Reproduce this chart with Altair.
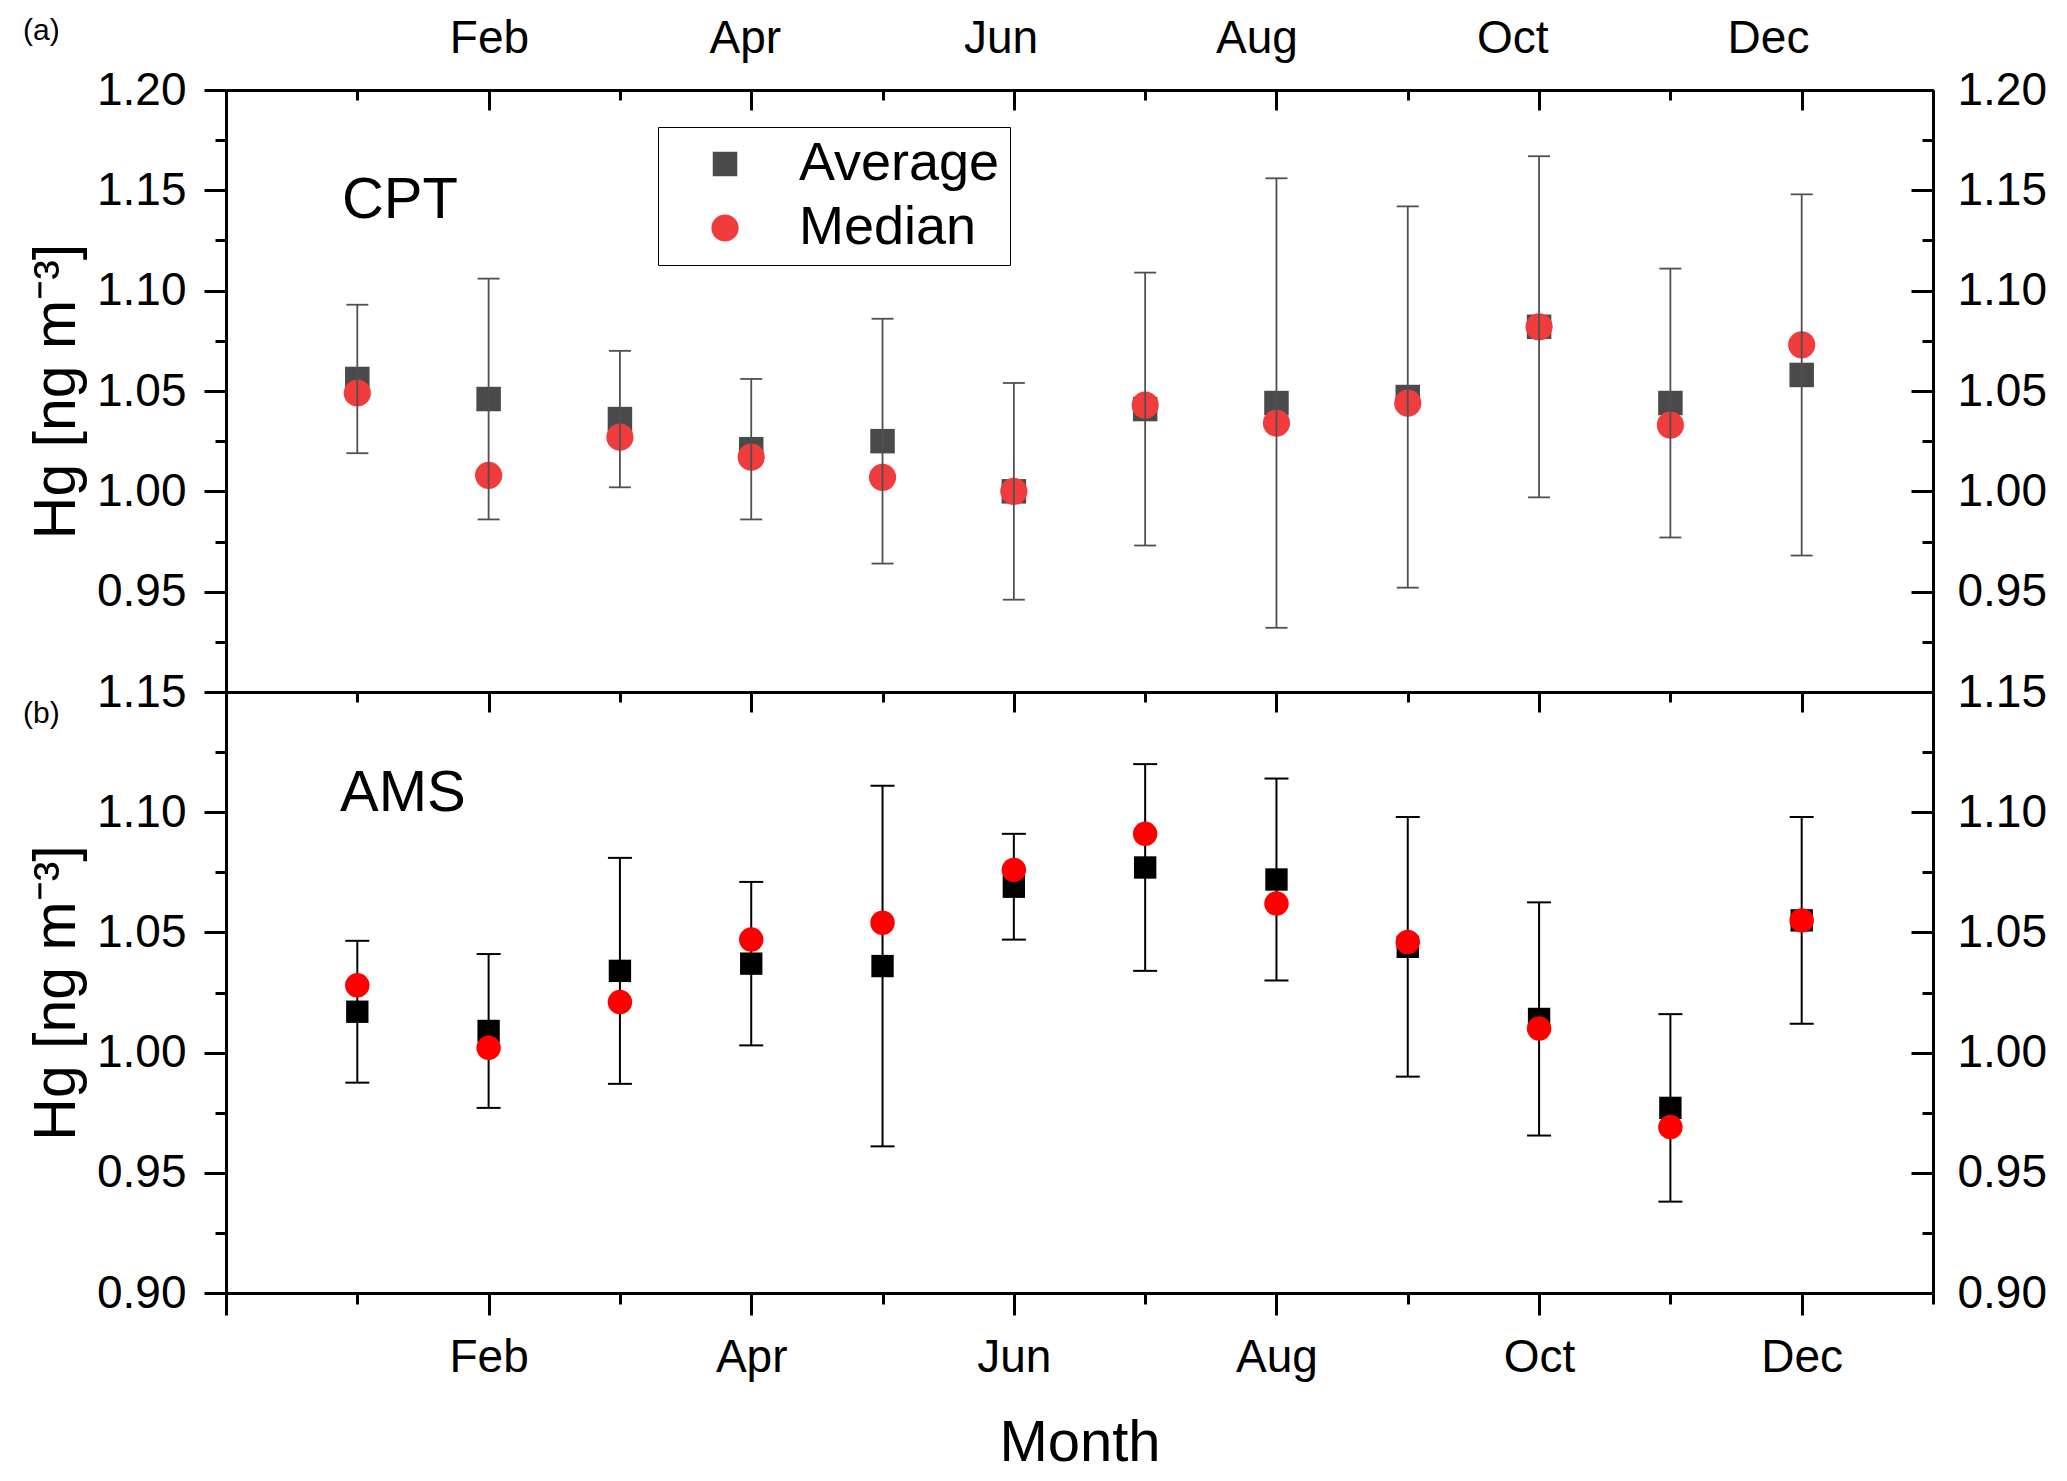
import altair as alt
import pandas as pd

# ---------------- data ----------------
months = list(range(1, 13))
month_names = ["Jan", "Feb", "Mar", "Apr", "May", "Jun",
               "Jul", "Aug", "Sep", "Oct", "Nov", "Dec"]

cpt_avg = [1.056, 1.046, 1.036, 1.021, 1.025, 1.000, 1.041, 1.044, 1.047, 1.082, 1.044, 1.058]
cpt_sd = [0.037, 0.060, 0.034, 0.035, 0.061, 0.054, 0.068, 0.112, 0.095, 0.085, 0.067, 0.090]
cpt_med = [1.049, 1.008, 1.027, 1.017, 1.007, 1.000, 1.043, 1.034, 1.044, 1.082, 1.033, 1.073]

ams_avg = [1.017, 1.009, 1.034, 1.037, 1.036, 1.069, 1.077, 1.072, 1.044, 1.014, 0.977, 1.055]
ams_sd = [0.0295, 0.032, 0.047, 0.034, 0.075, 0.022, 0.043, 0.042, 0.054, 0.0485, 0.039, 0.043]
ams_med = [1.028, 1.002, 1.021, 1.047, 1.054, 1.076, 1.091, 1.062, 1.046, 1.010, 0.969, 1.055]

top_major = [0.95, 1.00, 1.05, 1.10, 1.15, 1.20]
top_minor = [0.925, 0.975, 1.025, 1.075, 1.125, 1.175]
bot_major = [0.90, 0.95, 1.00, 1.05, 1.10, 1.15]
bot_minor = [0.925, 0.975, 1.025, 1.075, 1.125]
x_major = [0, 2, 4, 6, 8, 10, 12]
x_minor = [1, 3, 5, 7, 9, 11, 13]
x_labelled = [2, 4, 6, 8, 10, 12]

stats = ["Average", "Median"]
y_title = "Hg [ng m⁻³]"

# ---------------- style ----------------
FONT = "Liberation Sans"
W = 1707
H_TOP = 602
H_BOT = 601
TOP_DOM = [0.90, 1.20]
BOT_DOM = [0.90, 1.15]
X_DOM = [0, 13]
X_TOP_LABEL_DOM = [-0.056, 13.29]

label_expr = "[" + ",".join("'%s'" % n for n in [""] + month_names + [""]) + "][datum.value]"

AX = dict(domainColor="black", domainWidth=3, tickColor="black", tickWidth=3,
          labelFont=FONT, labelColor="black", titleFont=FONT, titleColor="black",
          grid=False, labelOverlap=False, labelFlush=False)


def xs(dom=X_DOM):
    return alt.Scale(domain=list(dom), nice=False, zero=False)


def ys(dom):
    return alt.Scale(domain=list(dom), nice=False, zero=False)


def axis_layer(xdom, ydom, xaxis=None, yaxis=None):
    df = pd.DataFrame({"u": [max(xdom[0], 0)], "v": [ydom[0]]})
    return alt.Chart(df).mark_point(opacity=0).encode(
        x=alt.X("u:Q", scale=xs(xdom), axis=xaxis),
        y=alt.Y("v:Q", scale=ys(ydom), axis=yaxis))


def frame_layers(ydom, major, minor, top_labels):
    layers = [
        # left minor ticks (outward)
        axis_layer(X_DOM, ydom, yaxis=alt.Axis(orient="left", values=minor, tickSize=11,
                                               labels=False, domain=False, title=None, **AX)),
        # right labels + border
        axis_layer(X_DOM, ydom, yaxis=alt.Axis(orient="right", values=major, ticks=False,
                                               tickSize=0, labelPadding=24, labelFontSize=46,
                                               format=".2f", title=None, **AX)),
        # right inward major / minor ticks
        axis_layer(X_DOM, ydom, yaxis=alt.Axis(orient="right", values=major, tickSize=22,
                                               offset=-22, labels=False, domain=False,
                                               title=None, **AX)),
        axis_layer(X_DOM, ydom, yaxis=alt.Axis(orient="right", values=minor, tickSize=11,
                                               offset=-11, labels=False, domain=False,
                                               title=None, **AX)),
        # top inward major / minor ticks
        axis_layer(X_DOM, ydom, xaxis=alt.Axis(orient="top", values=x_major, tickSize=20,
                                               offset=-20, labels=False, domain=False,
                                               title=None, **AX)),
        axis_layer(X_DOM, ydom, xaxis=alt.Axis(orient="top", values=x_minor, tickSize=10,
                                               offset=-10, labels=False, domain=False,
                                               title=None, **AX)),
    ]
    if top_labels:
        layers.append(axis_layer(X_TOP_LABEL_DOM, ydom, xaxis=alt.Axis(
            orient="top", values=x_labelled, labelExpr=label_expr, ticks=False, tickSize=0,
            labelPadding=28, labelFontSize=46, title=None, **AX)))
    else:
        layers.append(axis_layer(X_DOM, ydom, xaxis=alt.Axis(
            orient="top", ticks=False, labels=False, title=None, **AX)))
    return layers


# ---------------- top panel (CPT) ----------------
df_cpt = pd.DataFrame({"month": months, "avg": cpt_avg, "sd": cpt_sd})
df_cpt["lo"] = df_cpt["avg"] - df_cpt["sd"]
df_cpt["hi"] = df_cpt["avg"] + df_cpt["sd"]
df_cpt_caps = pd.DataFrame({"month": months + months,
                            "v": list(df_cpt["lo"]) + list(df_cpt["hi"])})
df_cpt_long = pd.DataFrame({"month": months + months,
                            "value": cpt_avg + cpt_med,
                            "stat": ["Average"] * 12 + ["Median"] * 12})

legend = alt.Legend(title=None, orient="none", legendX=432, legendY=37, direction="vertical",
                    labelFont=FONT, labelFontSize=54, labelColor="black", labelLimit=600,
                    symbolSize=680, symbolOffset=30, labelOffset=47, padding=10, rowPadding=10,
                    strokeColor="black", symbolStrokeWidth=0)

top_markers = alt.Chart(df_cpt_long).mark_point(filled=True, opacity=1).encode(
    x=alt.X("month:Q", scale=xs(), axis=alt.Axis(orient="bottom", ticks=False, labels=False,
                                                 title=None, **AX)),
    y=alt.Y("value:Q", scale=ys(TOP_DOM),
            axis=alt.Axis(orient="left", values=top_major, format=".2f", tickSize=22,
                          labelPadding=18, labelFontSize=46, title=y_title, titleFontSize=59,
                          titleFontWeight="normal", titlePadding=10, **AX)),
    shape=alt.Shape("stat:N", scale=alt.Scale(domain=stats, range=["square", "circle"]),
                    legend=legend),
    color=alt.Color("stat:N", scale=alt.Scale(domain=stats, range=["#4a4a4a", "#f03c3c"]),
                    legend=legend),
    size=alt.Size("stat:N", scale=alt.Scale(domain=stats, range=[600, 740]), legend=None),
)

top_rules = alt.Chart(df_cpt).mark_rule(color="#505050", strokeWidth=1.8).encode(
    x=alt.X("month:Q", scale=xs(), axis=None),
    y=alt.Y("lo:Q", scale=ys(TOP_DOM), axis=None),
    y2="hi:Q",
)
top_caps = alt.Chart(df_cpt_caps).mark_point(shape="M-1,0L1,0", size=484, filled=False,
                                             color="#505050", strokeWidth=1.8, opacity=1).encode(
    x=alt.X("month:Q", scale=xs(), axis=None),
    y=alt.Y("v:Q", scale=ys(TOP_DOM), axis=None),
)

df_cpt_txt = pd.DataFrame({"month": [0.883], "v": [1.1362], "t": ["CPT"]})
top_text = alt.Chart(df_cpt_txt).mark_text(font=FONT, fontSize=58, align="left",
                                           baseline="alphabetic", color="black").encode(
    x=alt.X("month:Q", scale=xs(), axis=None),
    y=alt.Y("v:Q", scale=ys(TOP_DOM), axis=None),
    text="t:N",
)
top_tag = alt.Chart(pd.DataFrame({"t": ["(a)"]})).mark_text(
    font=FONT, fontSize=30, align="left", baseline="alphabetic", color="black").encode(
    x=alt.value(-203), y=alt.value(-50), text="t:N")

top = alt.layer(top_markers, top_rules, top_caps, top_text, top_tag,
                *frame_layers(TOP_DOM, top_major, top_minor, True)).resolve_scale(
    x="independent", y="independent").properties(width=W, height=H_TOP)

# ---------------- bottom panel (AMS) ----------------
df_ams = pd.DataFrame({"month": months, "avg": ams_avg, "sd": ams_sd, "med": ams_med})
df_ams["lo"] = df_ams["avg"] - df_ams["sd"]
df_ams["hi"] = df_ams["avg"] + df_ams["sd"]
df_ams_caps = pd.DataFrame({"month": months + months,
                            "v": list(df_ams["lo"]) + list(df_ams["hi"])})

bot_rules = alt.Chart(df_ams).mark_rule(color="black", strokeWidth=2).encode(
    x=alt.X("month:Q", scale=xs(),
            axis=alt.Axis(orient="bottom", values=x_major, labelExpr=label_expr, tickSize=22,
                          labelPadding=20, labelFontSize=46, title="Month", titleFontSize=58,
                          titleFontWeight="normal", titlePadding=34, **AX)),
    y=alt.Y("lo:Q", scale=ys(BOT_DOM),
            axis=alt.Axis(orient="left", values=bot_major, format=".2f", tickSize=22,
                          labelPadding=18, labelFontSize=46, title=y_title, titleFontSize=59,
                          titleFontWeight="normal", titlePadding=10, **AX)),
    y2="hi:Q",
)
bot_caps = alt.Chart(df_ams_caps).mark_point(shape="M-1,0L1,0", size=576, filled=False,
                                             color="black", strokeWidth=2, opacity=1).encode(
    x=alt.X("month:Q", scale=xs(), axis=None),
    y=alt.Y("v:Q", scale=ys(BOT_DOM), axis=None),
)
bot_sq = alt.Chart(df_ams).mark_point(shape="square", filled=True, size=500, color="black",
                                      opacity=1).encode(
    x=alt.X("month:Q", scale=xs(), axis=None),
    y=alt.Y("avg:Q", scale=ys(BOT_DOM), axis=None),
)
bot_ci = alt.Chart(df_ams).mark_point(shape="circle", filled=True, size=600, color="#ff0000",
                                      opacity=1).encode(
    x=alt.X("month:Q", scale=xs(), axis=None),
    y=alt.Y("med:Q", scale=ys(BOT_DOM), axis=None),
)
bot_xminor = axis_layer(X_DOM, BOT_DOM, xaxis=alt.Axis(orient="bottom", values=x_minor,
                                                       tickSize=11, labels=False, domain=False,
                                                       title=None, **AX))

df_ams_txt = pd.DataFrame({"month": [0.868], "v": [1.1005], "t": ["AMS"]})
bot_text = alt.Chart(df_ams_txt).mark_text(font=FONT, fontSize=58, align="left",
                                           baseline="alphabetic", color="black").encode(
    x=alt.X("month:Q", scale=xs(), axis=None),
    y=alt.Y("v:Q", scale=ys(BOT_DOM), axis=None),
    text="t:N",
)
bot_tag = alt.Chart(pd.DataFrame({"t": ["(b)"]})).mark_text(
    font=FONT, fontSize=30, align="left", baseline="alphabetic", color="black").encode(
    x=alt.value(-203), y=alt.value(31), text="t:N")

bottom = alt.layer(bot_rules, bot_caps, bot_sq, bot_ci, bot_text, bot_tag, bot_xminor,
                   *frame_layers(BOT_DOM, bot_major, bot_minor, False)).resolve_scale(
    x="independent", y="independent").properties(width=W, height=H_BOT)

chart = alt.vconcat(top, bottom, spacing=0, bounds="flush").properties(
    padding={"left": 14, "top": 6, "right": 5, "bottom": 5}
).configure_view(strokeWidth=0).configure_legend(strokeWidth=2).configure(
    font=FONT, background="white")

chart.save("out.html", embed_options={"renderer": "svg", "actions": False})
